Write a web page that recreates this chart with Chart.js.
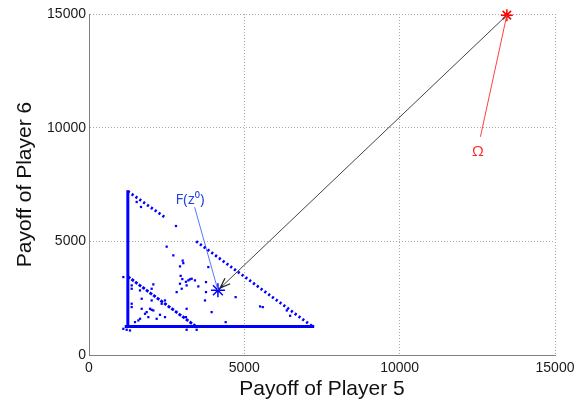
<!DOCTYPE html>
<html>
<head>
<meta charset="utf-8">
<script src="https://cdn.jsdelivr.net/npm/chart.js@4"></script>
<style>
  html, body { margin: 0; padding: 0; background: #fff; }
  #wrap { width: 587px; height: 406px; }
</style>
</head>
<body>
<div id="wrap"><canvas id="payoffChart"></canvas></div>
<script>
// axis ticks
const axisTicks = [0, 5000, 10000, 15000];

// scattered payoff points (player 5, player 6)
const dotsX = [1674, 1535, 2800, 2500, 2714, 3015, 3036, 2929, 1105, 2950, 3004, 3197, 3304, 3411, 2929, 3143, 3519, 2822, 2983,
  3766, 3841, 3766, 3733, 3948, 4399, 4720, 3143, 3143, 3465, 5507, 5593, 6366, 6474, 1374, 1374, 1374, 1374, 1642, 2071,
  2017, 1696, 2017, 2446, 2339, 1696, 1857, 1964, 2017, 2071, 1803, 1910, 2178, 1589, 1481, 1642, 2285, 3121, 2446,
  1105, 1213, 1320, 3250, 3120];
const dotsY = [6511, 6731, 5674, 4766, 4383, 4150, 4040, 3897, 3428, 3480, 3340, 3282, 3355, 3282, 3135, 3062, 3018, 2767, 2914,
  3208, 3868, 2767, 2400, 1886, 1446, 2547, 2033, 1109, 1109, 2136, 2107, 1960, 1725, 2255, 2108, 3062, 2914, 2841, 3106,
  2914, 2474, 2400, 2400, 2254, 2033, 1886, 2033, 1988, 1960, 1813, 1666, 1593, 1519, 1446, 1593, 1769, 1666, 1666,
  1152, 1109, 1079, 3330, 3220];

// solid edges of the payoff triangle
const leftEdgeX = [1250, 1250];
const leftEdgeY = [1250, 7250];
const bottomEdgeX = [1150, 7250];
const bottomEdgeY = [1250, 1250];

// dotted diagonals
const upperDiagAX = [1250, 2450];
const upperDiagAY = [7200, 6050];
const upperDiagBX = [3450, 7200];
const upperDiagBY = [5000, 1250];
const innerDiagX = [1250, 3450];
const innerDiagY = [3450, 1250];

// marked points
const startPoint = [4150, 2850];   // F(z0)
const omegaPoint = [13450, 14950]; // Omega

// annotation leader lines and label anchors
const fLabelLine = [[4150, 2850], [3400, 6500]];
const omegaLabelLine = [[13450, 14950], [12600, 9600]];
const fLabelPos = [3250, 6850];
const omegaLabelPos = [12520, 8950];

const toXY = (xs, ys) => xs.map((x, i) => ({ x: x, y: ys[i] }));

const blue = '#0000ff';

const lineSet = (data, color, width, dash) => ({
  type: 'line',
  data: data,
  borderColor: color,
  borderWidth: width,
  borderDash: dash || [],
  pointRadius: 0,
  fill: false,
  tension: 0
});

// arrowhead + text labels, placed through the chart scales
const annotations = {
  id: 'annotations',
  afterDatasetsDraw(chart) {
    const { ctx, scales: { x, y } } = chart;
    const bx = x.getPixelForValue(omegaPoint[0]), by = y.getPixelForValue(omegaPoint[1]);
    const sx = x.getPixelForValue(startPoint[0]), sy = y.getPixelForValue(startPoint[1]);
    const ang = Math.atan2(sy - by, sx - bx);
    // tip sits just on the edge of the star
    const ax = sx - 3 * Math.cos(ang), ay = sy - 3 * Math.sin(ang);
    const len = 11, spread = 0.35;
    ctx.save();
    ctx.strokeStyle = '#222';
    ctx.lineWidth = 1.2;
    ctx.beginPath();
    ctx.moveTo(ax - len * Math.cos(ang - spread), ay - len * Math.sin(ang - spread));
    ctx.lineTo(ax, ay);
    ctx.lineTo(ax - len * Math.cos(ang + spread), ay - len * Math.sin(ang + spread));
    ctx.stroke();

    ctx.textAlign = 'center';
    ctx.textBaseline = 'middle';
    ctx.font = '15px "Open Sans", sans-serif';
    ctx.fillStyle = '#2244dd';
    ctx.fillText('F(z⁰)', x.getPixelForValue(fLabelPos[0]), y.getPixelForValue(fLabelPos[1]));
    ctx.fillStyle = '#ff2020';
    ctx.fillText('Ω', x.getPixelForValue(omegaLabelPos[0]), y.getPixelForValue(omegaLabelPos[1]));
    ctx.restore();
  }
};

const axisOpts = (title, isY) => ({
  type: 'linear',
  min: 0,
  max: 15000,
  afterBuildTicks: s => { s.ticks = axisTicks.map(v => ({ value: v })); },
  afterFit: s => { if (isY) s.width = 89; else s.height = 51; },
  grid: { color: '#a8a8a8', lineWidth: 1, drawTicks: false },
  border: { display: true, color: '#808080', width: 1, dash: [1, 2] },
  ticks: {
    color: '#1a1a1a',
    padding: isY ? 3 : 5,
    font: { family: '"Liberation Sans", Arial, sans-serif', size: 14 },
    callback: v => String(v)
  },
  title: {
    display: true,
    text: title,
    color: '#111',
    font: { family: '"Liberation Sans", Arial, sans-serif', size: 21 },
    padding: isY ? { top: 13 } : { bottom: 4 }
  }
});

document.addEventListener('DOMContentLoaded', () => {
  const ctx = document.getElementById('payoffChart').getContext('2d');
  new Chart(ctx, {
    type: 'scatter',
    data: {
      datasets: [
        lineSet(toXY(leftEdgeX, leftEdgeY), blue, 3),
        lineSet(toXY(bottomEdgeX, bottomEdgeY), blue, 3),
        lineSet(toXY(upperDiagAX, upperDiagAY), blue, 2.8, [2.2, 2.5]),
        lineSet(toXY(upperDiagBX, upperDiagBY), blue, 2.8, [2.2, 2.5]),
        lineSet(toXY(innerDiagX, innerDiagY), blue, 2.8, [3, 1.5]),
        lineSet(fLabelLine.map(p => ({ x: p[0], y: p[1] })), '#5577ff', 1),
        lineSet(omegaLabelLine.map(p => ({ x: p[0], y: p[1] })), '#ff4040', 1),
        lineSet([omegaPoint, startPoint].map(p => ({ x: p[0], y: p[1] })), '#444', 1),
        {
          data: toXY(dotsX, dotsY),
          pointStyle: 'rect',
          pointRadius: 1.6,
          backgroundColor: blue,
          borderWidth: 0
        },
        {
          data: [{ x: startPoint[0], y: startPoint[1] }],
          pointStyle: 'star',
          pointRadius: 7,
          borderColor: blue,
          borderWidth: 1.5,
          clip: false
        },
        {
          data: [{ x: omegaPoint[0], y: omegaPoint[1] }],
          pointStyle: 'star',
          pointRadius: 6,
          borderColor: '#ff0000',
          borderWidth: 1.5,
          clip: false
        }
      ]
    },
    options: {
      responsive: true,
      maintainAspectRatio: false,
      animation: false,
      layout: { padding: { top: 14, right: 32, left: 0, bottom: 0 } },
      plugins: { legend: { display: false }, tooltip: { enabled: false } },
      scales: {
        x: axisOpts('Payoff of Player 5', false),
        y: axisOpts('Payoff of Player 6', true)
      }
    },
    plugins: [annotations]
  });
});
</script>
</body>
</html>
